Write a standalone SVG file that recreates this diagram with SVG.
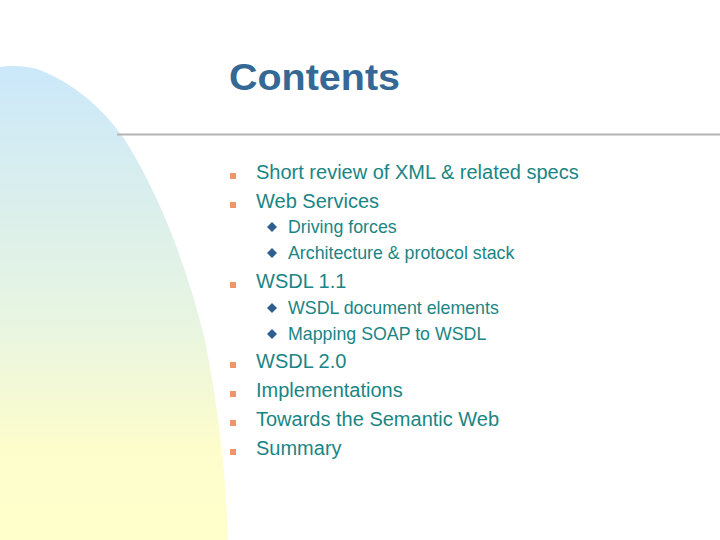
<svg xmlns="http://www.w3.org/2000/svg" width="720" height="540" viewBox="0 0 720 540">
<defs>
<linearGradient id="g" x1="0" y1="0" x2="0" y2="1">
<stop offset="0" stop-color="#cbe8fa"/><stop offset="0.55" stop-color="#e8f5e0"/><stop offset="0.8" stop-color="#fdfdcc"/><stop offset="1" stop-color="#ffffcc"/>
</linearGradient>
<style>
.t{font-family:"Liberation Sans",Arial,sans-serif;fill:#1a8585}
.m{font-size:20px}.s{font-size:17.8px}
.b{fill:#f0946a}.d{fill:#2f5f8f}
</style>
</defs>
<rect width="720" height="540" fill="#fff"/>
<path d="M0,67 Q20,64 40,70 Q90,90 125,140 Q175,220 205,340 Q225,440 228,540 L0,540 Z" fill="url(#g)"/>
<line x1="117" y1="134.5" x2="720" y2="134.5" stroke="#b3b3b3" stroke-width="2"/>
<text x="229" y="90" font-family="Liberation Sans,Arial,sans-serif" font-size="37" font-weight="bold" fill="#356895" textLength="171" lengthAdjust="spacingAndGlyphs">Contents</text>
<g id="items">
<rect class="b" x="230" y="173" width="6" height="6"/><text class="t m" x="256" y="179">Short review of XML &amp; related specs</text>
<rect class="b" x="230" y="202" width="6" height="6"/><text class="t m" x="256" y="208">Web Services</text>
<path class="d" d="M272,222 l5,5 -5,5 -5,-5z"/><text class="t s" x="288" y="233">Driving forces</text>
<path class="d" d="M272,248 l5,5 -5,5 -5,-5z"/><text class="t s" x="288" y="259">Architecture &amp; protocol stack</text>
<rect class="b" x="230" y="282" width="6" height="6"/><text class="t m" x="256" y="288">WSDL 1.1</text>
<path class="d" d="M272,303 l5,5 -5,5 -5,-5z"/><text class="t s" x="288" y="314">WSDL document elements</text>
<path class="d" d="M272,329 l5,5 -5,5 -5,-5z"/><text class="t s" x="288" y="340">Mapping SOAP to WSDL</text>
<rect class="b" x="230" y="362" width="6" height="6"/><text class="t m" x="256" y="368">WSDL 2.0</text>
<rect class="b" x="230" y="391" width="6" height="6"/><text class="t m" x="256" y="397">Implementations</text>
<rect class="b" x="230" y="420" width="6" height="6"/><text class="t m" x="256" y="426">Towards the Semantic Web</text>
<rect class="b" x="230" y="449" width="6" height="6"/><text class="t m" x="256" y="455">Summary</text>
</g>
</svg>
